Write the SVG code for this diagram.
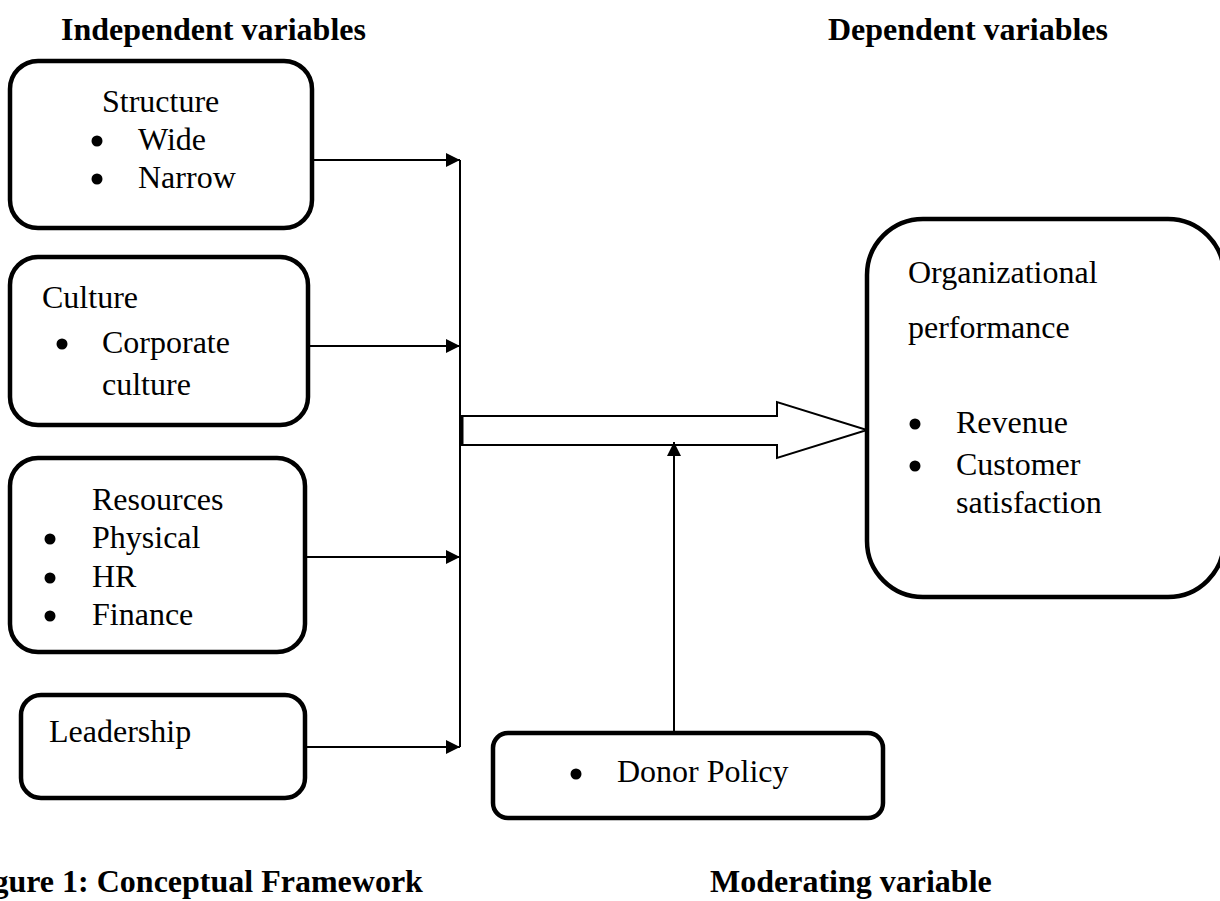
<svg xmlns="http://www.w3.org/2000/svg" width="1220" height="901" viewBox="0 0 1220 901">
<defs>
<style>
.t{font-family:"Liberation Serif","Times New Roman",serif;font-size:32px;fill:#000}
.b{font-family:"Liberation Serif","Times New Roman",serif;font-size:32px;font-weight:bold;fill:#000}
.box{fill:#fff;stroke:#000;stroke-width:4.5}
.ln{fill:none;stroke:#000;stroke-width:2}
.dot{fill:#000}
</style>
<marker id="ah" viewBox="0 0 10 10" refX="10" refY="5" markerWidth="7" markerHeight="7" markerUnits="strokeWidth" orient="auto">
<path d="M0,0 L10,5 L0,10 z" fill="#000"/>
</marker>
</defs>
<rect width="1220" height="901" fill="#fff"/>

<text class="b" x="61" y="40">Independent variables</text>
<text class="b" x="828" y="40">Dependent variables</text>
<text class="b" x="-36" y="892">Figure 1: Conceptual Framework</text>
<text class="b" x="710" y="892">Moderating variable</text>

<g id="connectors">
<line class="ln" x1="460" y1="160" x2="460" y2="747"/>
<line class="ln" x1="312" y1="160" x2="460" y2="160" marker-end="url(#ah)"/>
<line class="ln" x1="308" y1="346" x2="460" y2="346" marker-end="url(#ah)"/>
<line class="ln" x1="305" y1="557" x2="460" y2="557" marker-end="url(#ah)"/>
<line class="ln" x1="305" y1="747" x2="460" y2="747" marker-end="url(#ah)"/>
<path d="M462,416 L777,416 L777,402 L867,430 L777,458 L777,445 L462,445 Z" fill="#fff" stroke="#000" stroke-width="2"/>
<line x1="462" y1="416" x2="462" y2="445" stroke="#000" stroke-width="3"/>
<line class="ln" x1="674" y1="733" x2="674" y2="442" marker-end="url(#ah)"/>
</g>

<g id="structure">
<rect class="box" x="10" y="61" width="302" height="167" rx="28"/>
<text class="t" x="102" y="112">Structure</text>
<circle class="dot" cx="97" cy="141" r="5.5"/>
<text class="t" x="138" y="150">Wide</text>
<circle class="dot" cx="97" cy="179" r="5.5"/>
<text class="t" x="138" y="188">Narrow</text>
</g>

<g id="culture">
<rect class="box" x="10" y="257" width="298" height="168" rx="28"/>
<text class="t" x="42" y="308">Culture</text>
<circle class="dot" cx="62" cy="344" r="5.5"/>
<text class="t" x="102" y="353">Corporate</text>
<text class="t" x="102" y="395">culture</text>
</g>

<g id="resources">
<rect class="box" x="10" y="458" width="295" height="194" rx="28"/>
<text class="t" x="92" y="510">Resources</text>
<circle class="dot" cx="50" cy="539" r="5.5"/>
<text class="t" x="92" y="548">Physical</text>
<circle class="dot" cx="50" cy="578" r="5.5"/>
<text class="t" x="92" y="587">HR</text>
<circle class="dot" cx="50" cy="616" r="5.5"/>
<text class="t" x="92" y="625">Finance</text>
</g>

<g id="leadership">
<rect class="box" x="21" y="695" width="284" height="103" rx="20"/>
<text class="t" x="49" y="742">Leadership</text>
</g>

<g id="donor">
<rect class="box" x="493" y="733" width="390" height="85" rx="15"/>
<circle class="dot" cx="576" cy="774" r="5.5"/>
<text class="t" x="617" y="782">Donor Policy</text>
</g>

<g id="performance">
<rect class="box" x="867" y="219" width="357" height="378" rx="56"/>
<text class="t" x="908" y="283">Organizational</text>
<text class="t" x="908" y="338">performance</text>
<circle class="dot" cx="915" cy="424" r="5.5"/>
<text class="t" x="956" y="433">Revenue</text>
<circle class="dot" cx="915" cy="466" r="5.5"/>
<text class="t" x="956" y="475">Customer</text>
<text class="t" x="956" y="513">satisfaction</text>
</g>
</svg>
